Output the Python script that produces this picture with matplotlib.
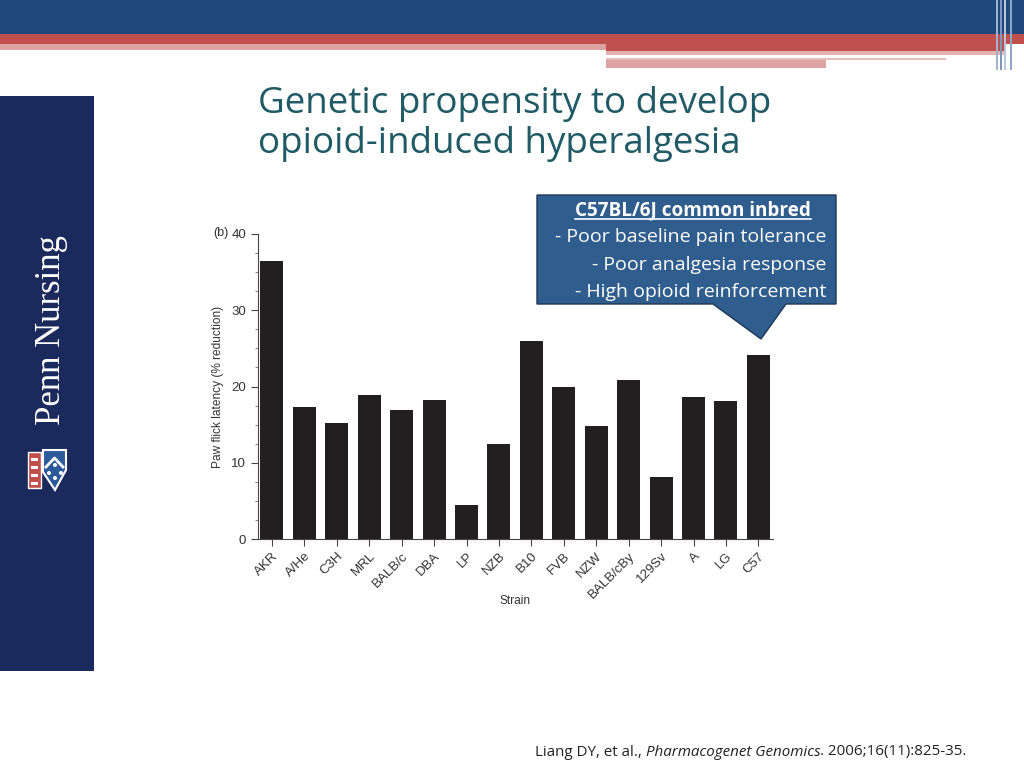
import numpy as np
import matplotlib
matplotlib.use('Agg')
import matplotlib.pyplot as plt
from matplotlib.patches import Rectangle, Polygon, Circle
from matplotlib.lines import Line2D
from matplotlib.transforms import offset_copy

strains = ['AKR', 'A/He', 'C3H', 'MRL', 'BALB/c', 'DBA', 'LP', 'NZB', 'B10',
           'FVB', 'NZW', 'BALB/cBy', '129Sv', 'A', 'LG', 'C57']
reduction = [36.5, 17.3, 15.2, 18.9, 16.9, 18.2, 4.5, 12.5, 26.0,
             19.9, 14.8, 20.9, 8.1, 18.6, 18.1, 24.1]

title = 'Genetic propensity to develop\nopioid-induced hyperalgesia'
callout_head = 'C57BL/6J common inbred'
callout_lines = ['- Poor baseline pain tolerance', '- Poor analgesia response',
                 '- High opioid reinforcement']

W, H = 1024, 768
fig = plt.figure(figsize=(W / 100, H / 100), dpi=100)
fig.patch.set_facecolor('white')

# background layer in pixel coords (y down)
bg = fig.add_axes([0, 0, 1, 1])
bg.set_xlim(0, W)
bg.set_ylim(H, 0)
bg.axis('off')

# top banner
bg.add_patch(Rectangle((0, 0), W, 34, color='#1F497D', lw=0))
bg.add_patch(Rectangle((0, 34), W, 10, color='#C0504D', lw=0))
bg.add_patch(Rectangle((0, 44), 606, 6, color='#DDA3A2', lw=0))
bg.add_patch(Rectangle((606, 44), 400, 7, color='#C0504D', lw=0))
bg.add_patch(Rectangle((606, 51), 400, 4, color='#E3B2B1', lw=0))
bg.add_patch(Rectangle((606, 58), 340, 2, color='#E7BEBD', lw=0))
bg.add_patch(Rectangle((606, 60), 220, 8, color='#DDA3A2', lw=0))
for xv, c in [(996, '#9FB3CF'), (1000, '#7F97BA'), (1004, '#B9C7DB'), (1010, '#8FA5C5')]:
    bg.add_patch(Rectangle((xv, 0), 2, 70, color=c, lw=0))

# left sidebar
bg.add_patch(Rectangle((0, 96), 94, 575, color='#1B2A5C', lw=0))
bg.text(51, 330, 'Penn Nursing', rotation=90, ha='center', va='center',
        color='white', fontsize=25, family='Liberation Serif')
# little shield
bg.add_patch(Rectangle((28, 452), 13, 36, color='#C0504D', ec='white', lw=1))
for yy in [458, 466, 474, 482]:
    bg.add_patch(Rectangle((31, yy), 7, 3, color='white', lw=0))
bg.add_patch(Polygon([(43, 450), (66, 450), (66, 470), (55, 490), (43, 472)],
                     closed=True, fc='#2D5A9A', ec='white', lw=1.5))
bg.add_line(Line2D([46, 54.5, 63], [467, 458, 467], color='white', lw=2))
for cx, cy in [(49, 473), (55, 478), (61, 473), (55, 465)]:
    bg.add_patch(Circle((cx, cy), 2.0, color='white', lw=0))

# title
bg.text(258, 124, title, ha='left', va='center', color='#1F5A66',
        fontsize=26.5, family='Open Sans', linespacing=1.18)

# citation
cfs = 10.9
t1 = bg.text(535, 752, 'Liang DY, et al., ', ha='left', va='center', fontsize=cfs,
             family='Open Sans', color='#222222')
fig.canvas.draw()
r = fig.canvas.get_renderer()
inv = bg.transData.inverted()
bb = t1.get_window_extent(r)
x1 = inv.transform((bb.x1, bb.y0))[0]
t2 = bg.text(x1, 752, 'Pharmacogenet Genomics', ha='left', va='center', fontsize=cfs,
             family='Open Sans', style='italic', color='#222222')
bb = t2.get_window_extent(r)
x2 = inv.transform((bb.x1, bb.y0))[0]
bg.text(x2, 752, '. 2006;16(11):825-35.', ha='left', va='center', fontsize=cfs,
        family='Open Sans', color='#222222')

# bar chart
ax = fig.add_axes([258 / W, (H - 539) / H, (773 - 258) / W, (539 - 234) / H])
ax.patch.set_alpha(0)
x = np.arange(len(strains))
ax.bar(x, reduction, width=0.71, color='#231F20')
ax.set_xlim(-0.43, len(strains) - 0.55)
ax.set_ylim(0, 40)
ax.set_yticks([0, 10, 20, 30, 40])
ax.set_yticks(np.arange(0, 40, 2.5), minor=True)
ax.set_xticks(x)
ax.set_xticklabels(strains, rotation=45, ha='right', rotation_mode='anchor',
                   fontsize=9.5, family='Liberation Sans', color='#333333')
for lab in ax.get_yticklabels():
    lab.set_fontsize(9.5)
    lab.set_family('Liberation Sans')
    lab.set_color('#333333')
ax.tick_params(axis='both', which='major', length=5, width=0.8, color='#444444')
ax.tick_params(axis='x', pad=3)
ax.tick_params(axis='y', which='minor', length=2.5, width=0.6, color='#666666')
ax.spines['top'].set_visible(False)
ax.spines['right'].set_visible(False)
for s in ['left', 'bottom']:
    ax.spines[s].set_color('#444444')
    ax.spines[s].set_linewidth(0.8)
ax.set_ylabel('Paw flick latency (% reduction)', fontsize=8.6,
              family='Liberation Sans', color='#333333', labelpad=5)
ax.set_xlabel('Strain', fontsize=8.6, family='Liberation Sans', color='#333333',
              labelpad=-4)
ax.text(0, 1.0, '(b)', transform=offset_copy(ax.transAxes, fig=fig, x=-30, y=1, units='dots'),
        ha='right', va='center', fontsize=9, family='Liberation Sans', color='#333333')

# callout overlay (on top of chart)
ov = fig.add_axes([0, 0, 1, 1])
ov.set_xlim(0, W)
ov.set_ylim(H, 0)
ov.axis('off')
ov.patch.set_alpha(0)
ov.add_patch(Polygon([(537, 195), (836, 195), (836, 304), (786, 304), (761, 339),
                      (713, 304), (537, 304)], closed=True,
                     fc='#2F5D8E', ec='#1D3557', lw=1))
hd = ov.text(693, 210, callout_head, ha='center', va='center', color='white',
             fontsize=13.6, family='Open Sans', weight='bold')
for i, ln in enumerate(callout_lines):
    ov.text(826, 237 + 27.5 * i, ln, ha='right', va='center', color='white',
            fontsize=14, family='Open Sans')
fig.canvas.draw()
inv2 = ov.transData.inverted()
bb = hd.get_window_extent(r)
p0 = inv2.transform((bb.x0, bb.y0))
p1 = inv2.transform((bb.x1, bb.y0))
ov.add_line(Line2D([p0[0], p1[0]], [p0[1] - 1, p1[1] - 1], color='white', lw=1.2))

fig.savefig('out.png', dpi=100)
